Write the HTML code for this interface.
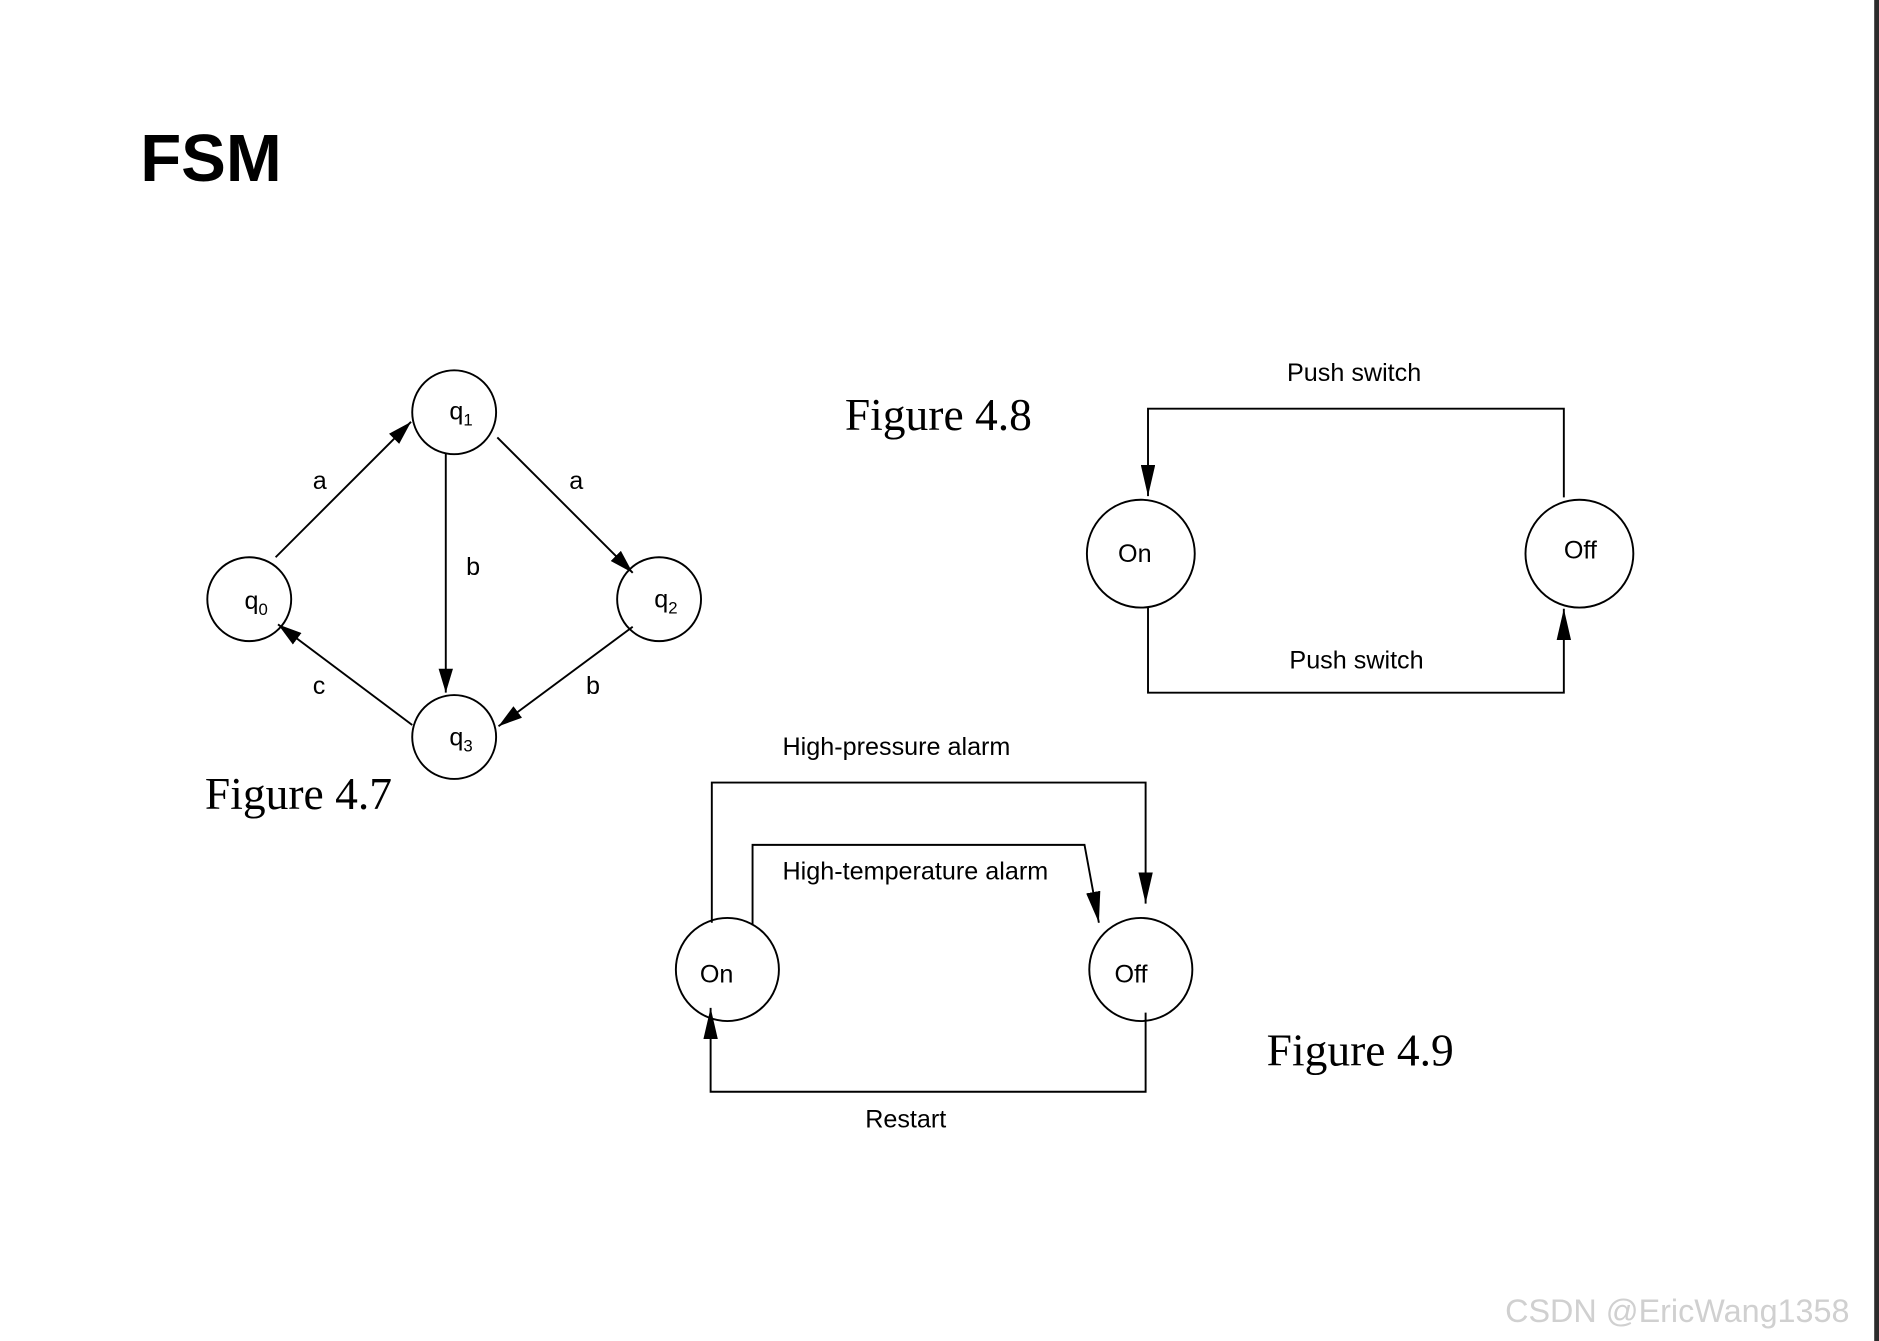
<!DOCTYPE html>
<html><head><meta charset="utf-8"><style>
html,body{margin:0;padding:0;background:#fff;}
svg{display:block;}
.s{font-family:"Liberation Sans",Arial,sans-serif;font-size:21px;fill:#000;}
.f{font-family:"Liberation Serif",serif;font-size:38px;fill:#000;}
</style></head><body>
<svg width="1879" height="1341" viewBox="0 0 1568 1119" preserveAspectRatio="none" xmlns="http://www.w3.org/2000/svg">
<defs><marker id="a" markerWidth="10" markerHeight="8" refX="10" refY="4" orient="auto" markerUnits="userSpaceOnUse"><path d="M0,0 L10,4 L0,8 z" fill="#000"/></marker>
<marker id="b" markerWidth="26" markerHeight="12" refX="26" refY="6" orient="auto" markerUnits="userSpaceOnUse"><path d="M0,0 L26,6 L0,12 z" fill="#000"/></marker>
<marker id="c" markerWidth="20" markerHeight="12" refX="20" refY="6" orient="auto" markerUnits="userSpaceOnUse"><path d="M0,0 L20,6 L0,12 z" fill="#000"/></marker></defs>
<rect x="0" y="0" width="1568" height="1119" fill="#fff"/>
<rect x="1564" y="0" width="4" height="1119" fill="#2b2b2b"/>
<text x="117" y="151" font-family="Liberation Sans,Arial,sans-serif" font-weight="bold" font-size="56" fill="#000">FSM</text>
<g fill="none" stroke="#000" stroke-width="1.6">
<circle cx="208" cy="500" r="35"/><circle cx="379" cy="344" r="35"/><circle cx="550" cy="500" r="35"/><circle cx="379" cy="615" r="35"/>
<line x1="230" y1="465" x2="343" y2="352" marker-end="url(#c)"/>
<line x1="372" y1="378" x2="372" y2="578" marker-end="url(#c)"/>
<line x1="415" y1="365" x2="528" y2="478" marker-end="url(#c)"/>
<line x1="528" y1="523" x2="416" y2="606" marker-end="url(#c)"/>
<line x1="344" y1="605" x2="232" y2="521" marker-end="url(#c)"/>
</g>
<text class="s" x="261" y="408">a</text><text class="s" x="475" y="408">a</text>
<text class="s" x="389" y="480">b</text><text class="s" x="489" y="579">b</text><text class="s" x="261" y="579">c</text>
<text class="s" x="204" y="508">q<tspan font-size="14" dy="5">0</tspan></text>
<text class="s" x="375" y="350">q<tspan font-size="14" dy="5">1</tspan></text>
<text class="s" x="546" y="507">q<tspan font-size="14" dy="5">2</tspan></text>
<text class="s" x="375" y="622">q<tspan font-size="14" dy="5">3</tspan></text>
<text class="f" x="171" y="675">Figure 4.7</text>
<text class="f" x="705" y="359">Figure 4.8</text>
<text class="f" x="1057" y="889">Figure 4.9</text>
<g fill="none" stroke="#000" stroke-width="1.6">
<circle cx="952" cy="462" r="45"/><circle cx="1318" cy="462" r="45"/>
<polyline points="1305,415 1305,341 958,341 958,414" marker-end="url(#b)"/>
<polyline points="958,507 958,578 1305,578 1305,508" marker-end="url(#b)"/>
<circle cx="607" cy="809" r="43"/><circle cx="952" cy="809" r="43"/>
<polyline points="594,770 594,653 956,653 956,754" marker-end="url(#b)"/>
<polyline points="628,772 628,705 905,705 917,770" marker-end="url(#b)"/>
<polyline points="956,845 956,911 593,911 593,841" marker-end="url(#b)"/>
</g>
<text class="s" x="1074" y="318">Push switch</text>
<text class="s" x="1076" y="558">Push switch</text>
<text class="s" x="933" y="469" font-size="23">On</text>
<text class="s" x="1305" y="466" font-size="23">Off</text>
<text class="s" x="653" y="630">High-pressure alarm</text>
<text class="s" x="653" y="734">High-temperature alarm</text>
<text class="s" x="722" y="941">Restart</text>
<text class="s" x="584" y="820">On</text>
<text class="s" x="930" y="820">Off</text>
<text x="1256" y="1103" font-family="Liberation Sans,Arial,sans-serif" font-size="27" fill="#d0d0d0">CSDN @EricWang1358</text>
</svg>
</body></html>
